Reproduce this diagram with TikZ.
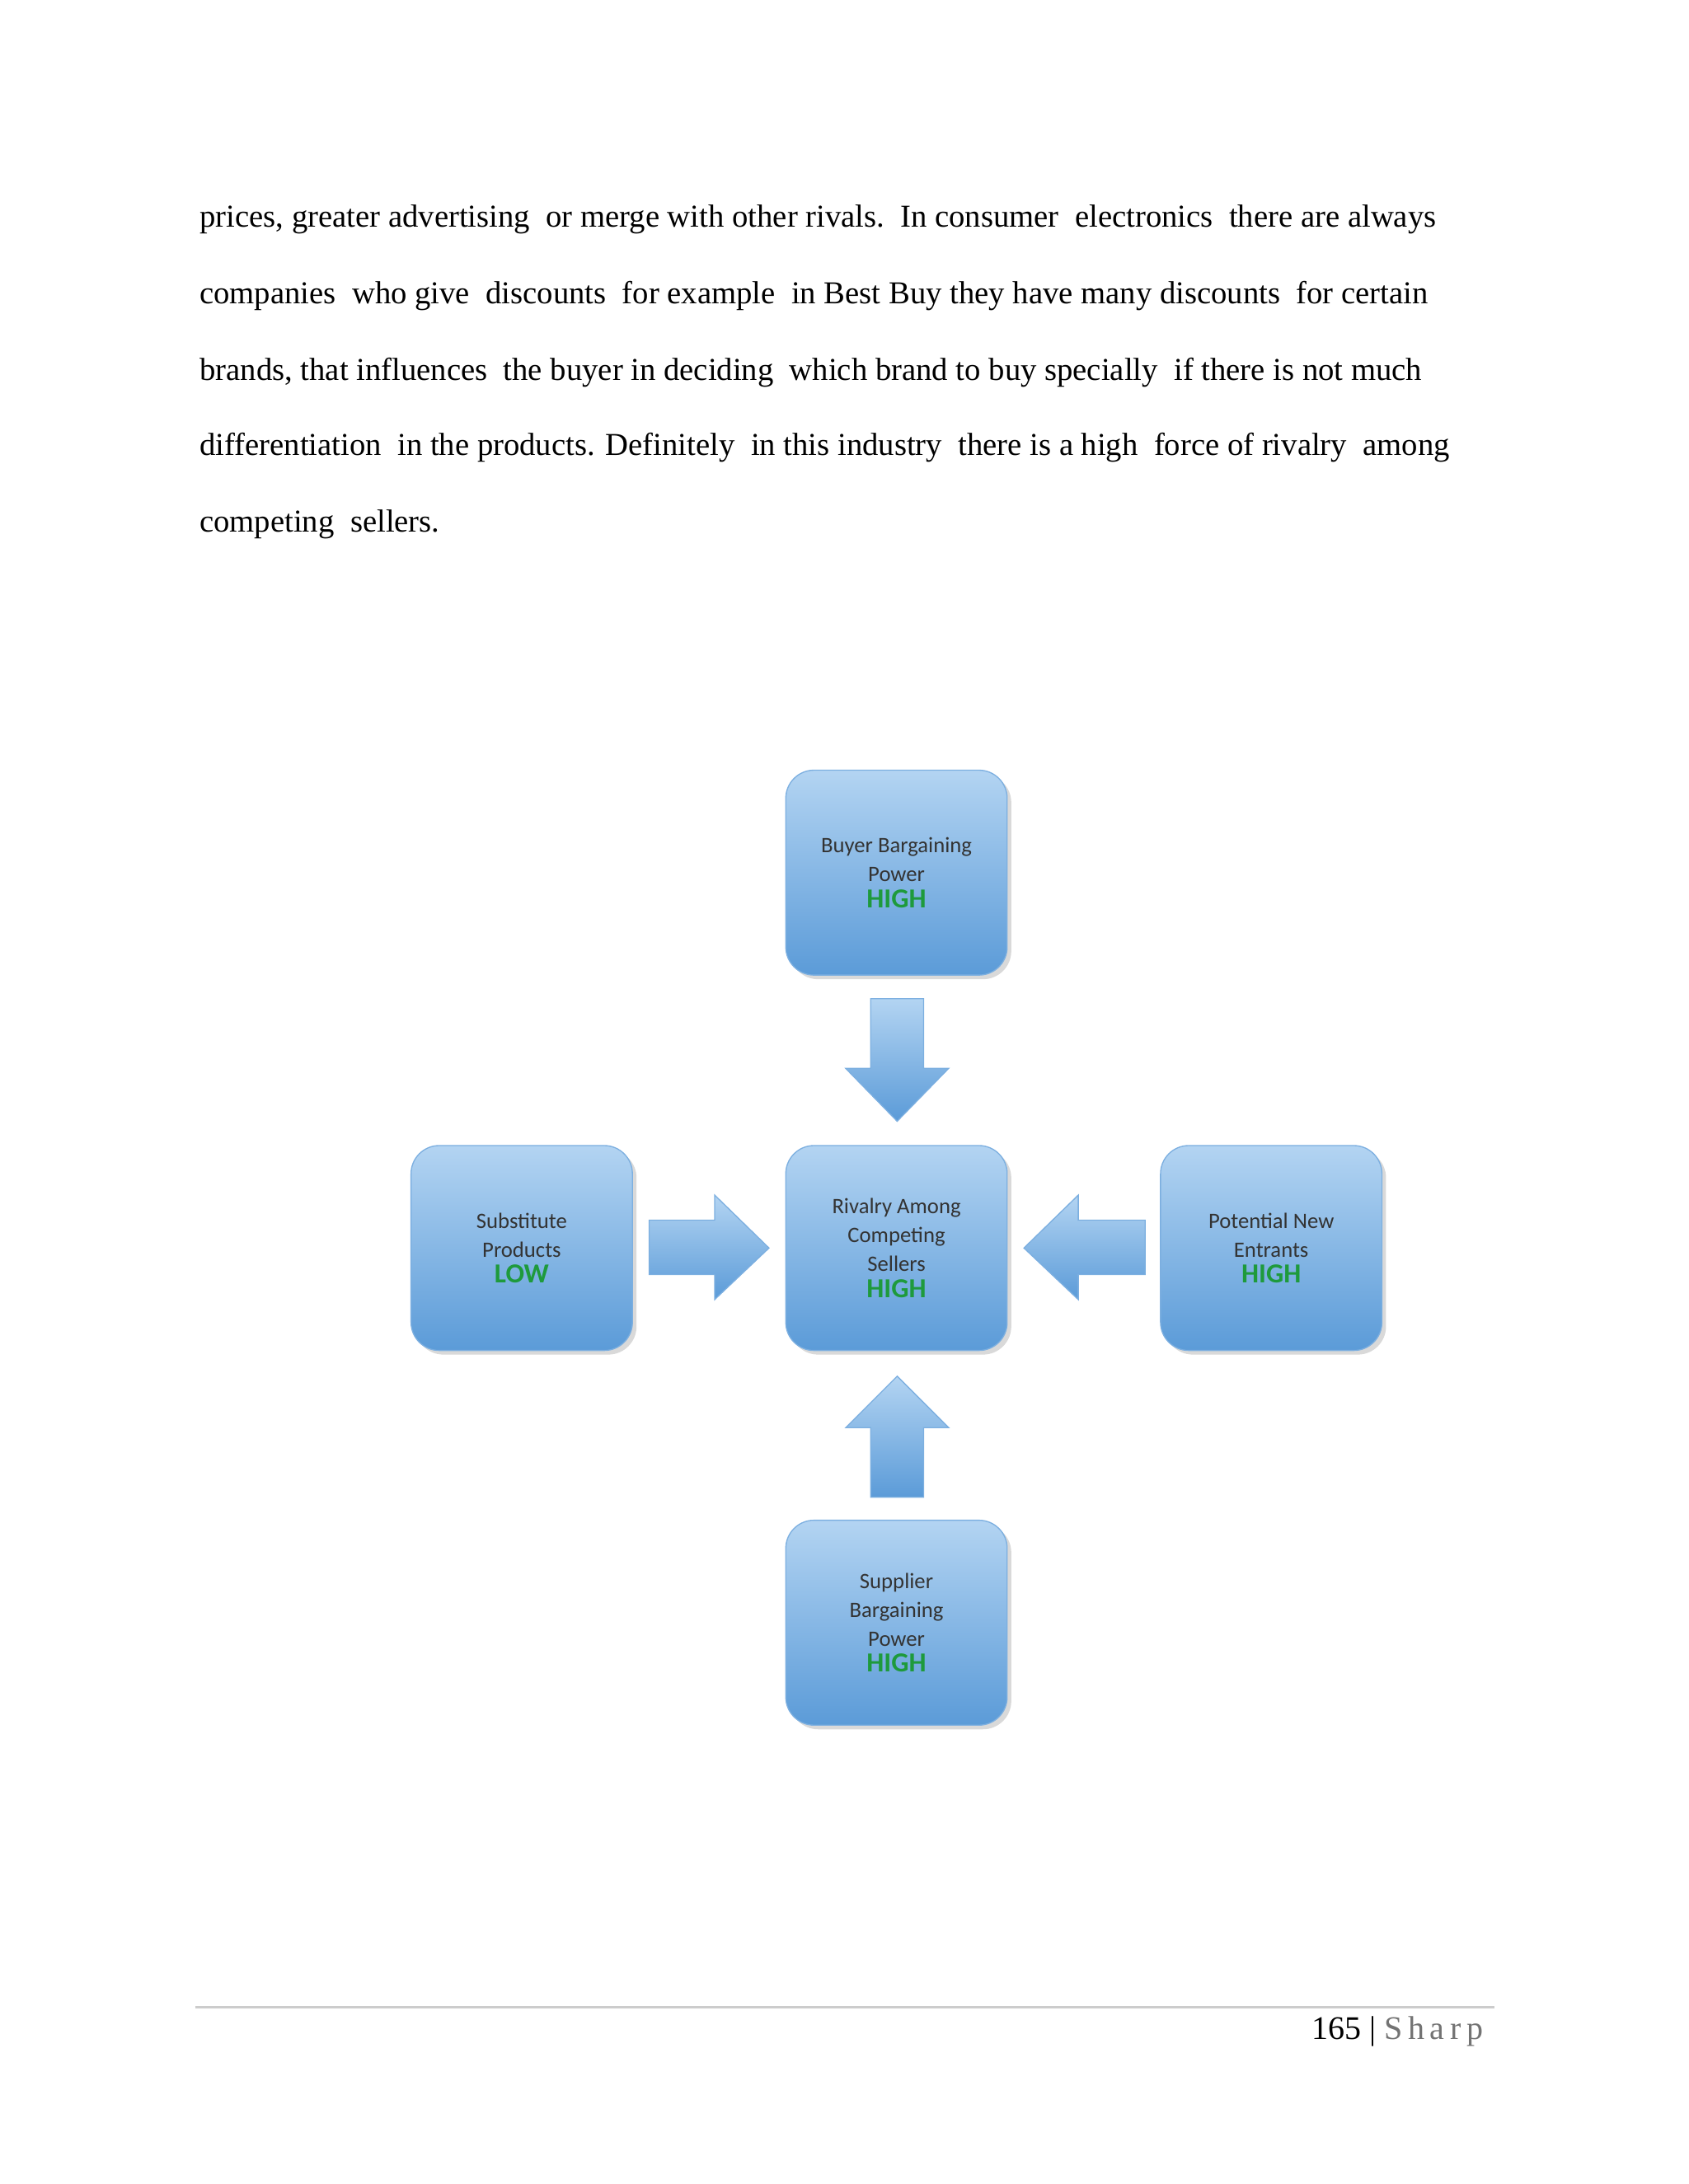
\documentclass[tikz,border=0pt]{standalone}
\usepackage{fontspec}
\setmainfont{Liberation Serif}
\newfontfamily\boxfont{Carlito}
\usetikzlibrary{positioning,shadows}

\definecolor{boxtop}{HTML}{B3D4F2}
\definecolor{boxbot}{HTML}{5B9BD8}
\definecolor{levelgreen}{HTML}{1E9A3C}

\tikzset{
  force/.style={rounded corners=3.6mm, top color=boxtop, bottom color=boxbot,
    draw=boxbot!80!white, minimum width=28.3mm, minimum height=26.2mm, align=center,
    font=\boxfont\fontsize{8}{10.5}\selectfont, text=black!80,
    drop shadow={shadow xshift=1.5pt,shadow yshift=-1.5pt,opacity=0.3}},
  blockarrow/.style={top color=boxtop, bottom color=boxbot, draw=boxbot!80!white},
  para/.style={anchor=base west, inner sep=0, font=\fontsize{11.6}{14}\selectfont}
}
\newcommand{\lvl}[1]{\\[-1pt]{\fontsize{10}{12}\selectfont\bfseries\color{levelgreen}#1}}

\begin{document}
\begin{tikzpicture}[x=0.1781mm,y=-0.1781mm]
\useasboundingbox (0,0) rectangle (1212,1568);

% text
\node [para] (l1) at (143,163) {prices,\ greater\ advertising\ \ or merge\ with\ other rivals.\ \ In consumer\ \ electronics\ \ there\ are always};
\node [para] (l2) at (143,218) {companies\ \ who\ give\ \ discounts\ \ for example\ \ in Best Buy\ they have many\ discounts\ \ for certain};
\node [para] (l3) at (143,273) {brands,\ that influences\ \ the buyer in deciding\ \ which\ brand to buy\ specially\ \ if there is not much};
\node [para] (l4) at (143,327) {differentiation\ \ in the products. Definitely\ \ in this\ industry\ \ there\ is a high\ \ force of rivalry\ \ among};
\node [para] (l5) at (143,382) {competing\ \ sellers.};

% boxes
\node [force] (buyer) at (643.5,626.5) {Buyer Bargaining\\Power\lvl{HIGH}};
\node [force] (rivalry) at (643.5,896) {Rivalry Among\\Competing\\Sellers\lvl{HIGH}};
\node [force] (subst) at (374.5,896) {Substitute\\Products\lvl{LOW}};
\node [force] (entrants) at (912.5,896) {Potential New\\Entrants\lvl{HIGH}};
\node [force] (supplier) at (643.5,1165) {Supplier\\Bargaining\\Power\lvl{HIGH}};

% block arrows
\draw [blockarrow] (625,717) -- (663,717) -- (663,767) -- (681,767) -- (644,805) -- (607,767) -- (625,767) -- cycle;
\draw [blockarrow] (625,1075) -- (663,1075) -- (663,1025) -- (681,1025) -- (644,988) -- (607,1025) -- (625,1025) -- cycle;
\draw [blockarrow] (466,876) -- (513,876) -- (513,858) -- (552,896) -- (513,933) -- (513,915) -- (466,915) -- cycle;
\draw [blockarrow] (822,876) -- (774,876) -- (774,858) -- (735,896) -- (774,933) -- (774,915) -- (822,915) -- cycle;

% footer
\coordinate (fl) at (140,1441);
\coordinate (fr) at (1073,1441);
\draw [black!20, thick] (fl) -- (fr);
\node [anchor=base east, inner sep=0, font=\fontsize{12}{14}\selectfont] (page) at (1065,1464)
  {165 | {\color{black!55}S\,h\,a\,r\,p}};
\end{tikzpicture}
\end{document}
